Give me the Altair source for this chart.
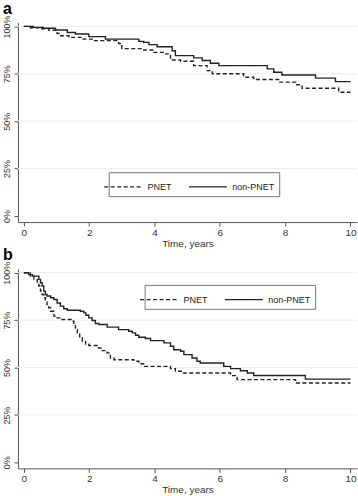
import altair as alt
import pandas as pd

# ---- Panel a ----
a_pnet_t = [0, 0.2, 0.5, 0.77, 1.02, 1.1, 1.38, 1.79, 2.14, 2.9, 3.0, 3.67, 3.98, 4.34, 4.49, 4.8, 5.2, 5.61, 5.77, 6.73, 7.04, 7.8, 8.32, 8.52, 9.64, 10]
a_pnet_s = [100, 99.3, 98.8, 98, 96.3, 95.1, 94.2, 93.3, 92.5, 91, 88.3, 87.6, 86.3, 85.5, 82.3, 81.6, 79.3, 76.7, 75, 73.2, 72, 70.6, 69.2, 67.4, 65.3, 65.3]
a_non_t = [0, 0.3, 0.6, 0.97, 1.33, 1.58, 1.99, 2.5, 3.52, 3.67, 3.83, 4.08, 4.54, 4.64, 5.2, 5.46, 5.71, 5.97, 7.45, 7.65, 7.9, 8.93, 9.54, 10]
a_non_s = [100, 99.5, 99, 98.1, 96.8, 96, 94.6, 93.3, 92.1, 91.6, 90.4, 89.3, 87.2, 84.6, 83.4, 82, 80.6, 79.3, 77.6, 75.8, 74.4, 72.7, 70.9, 70.9]

# ---- Panel b ----
b_pnet_t = [0, 0.2, 0.31, 0.41, 0.46, 0.51, 0.56, 0.61, 0.66, 0.71, 0.76, 0.82, 0.92, 1.02, 1.17, 1.48, 1.53, 1.58, 1.64, 1.71, 1.79, 1.89, 1.99, 2.24, 2.4, 2.55, 2.65, 2.76, 3.37, 3.52, 3.67, 4.49, 4.64, 4.85, 6.33, 6.53, 8.32, 10]
b_pnet_s = [100, 98.2, 96.5, 94.7, 93, 90.3, 88.5, 86.8, 85, 83.2, 81.5, 79.7, 77.1, 76.2, 75.3, 74.4, 72.7, 70, 68.3, 65.6, 63.8, 62.4, 61.6, 60.3, 58.9, 57.7, 55, 54.1, 53.3, 52, 50.6, 49.4, 48, 47.1, 45.7, 43.6, 41.8, 41.8]
b_non_t = [0, 0.15, 0.26, 0.46, 0.51, 0.56, 0.61, 0.66, 0.71, 0.82, 0.92, 1.02, 1.12, 1.22, 1.33, 1.73, 1.84, 1.9, 1.99, 2.09, 2.19, 2.3, 2.55, 2.9, 3.21, 3.32, 3.42, 3.52, 3.72, 3.88, 4.29, 4.49, 4.59, 4.8, 4.9, 5.15, 5.3, 5.4, 6.12, 6.33, 6.63, 6.84, 7.04, 8.62, 10]
b_non_s = [100, 99, 98.2, 96.5, 94.7, 93, 90.3, 88.5, 87.7, 86.8, 85.9, 84, 82.4, 81, 80.2, 79.7, 78.8, 77.6, 76.2, 74.8, 73.2, 72.7, 71.3, 70, 69.1, 68.3, 67, 66, 65.3, 64.2, 63, 61.2, 59.4, 58.6, 56.8, 55, 53.3, 52.4, 50.6, 49.4, 48.3, 47.1, 45.8, 43.9, 43.9]

groups = ["PNET", "non-PNET"]
x_ticks = [0, 2, 4, 6, 8, 10]
y_ticks = [0, 25, 50, 75, 100]
grid_vals = [25, 50, 75, 100]

FONT = "Liberation Sans"
INK = "#222222"


def make_df(pt, ps, nt, ns):
    d1 = pd.DataFrame({"time": pt, "surv": ps, "group": groups[0]})
    d2 = pd.DataFrame({"time": nt, "surv": ns, "group": groups[1]})
    return pd.concat([d1, d2], ignore_index=True)


X_SCALE = alt.Scale(domain=[-0.18, 10.2], nice=False, zero=False)
Y_SCALE = alt.Scale(domain=[-3.2, 102], nice=False, zero=False)
X_AXIS = alt.Axis(values=x_ticks, title="Time, years", grid=False, domain=True, ticks=True,
                  labelFont=FONT, labelFontSize=10, labelColor="#333",
                  titleFont=FONT, titleFontSize=10, titleFontWeight="normal",
                  titleColor="#333", titlePadding=1, tickSize=4, tickWidth=1,
                  tickColor="#555", domainColor="#555", domainWidth=1, labelPadding=1)
Y_AXIS = alt.Axis(values=y_ticks, title=None, grid=False, domain=True, ticks=True,
                  labelExpr="datum.value + '%'", labelAngle=270,
                  labelAlign="center", labelBaseline="bottom",
                  labelFont=FONT, labelFontSize=9, labelColor="#333",
                  tickSize=4, tickWidth=1, tickColor="#555", domainColor="#555",
                  domainWidth=1, labelPadding=2)


def panel(df, label, lx, ly):
    lines = alt.Chart(df).mark_line(
        interpolate="step-after", color=INK, strokeWidth=1.4
    ).encode(
        x=alt.X("time:Q", scale=X_SCALE, axis=X_AXIS),
        y=alt.Y("surv:Q", scale=Y_SCALE, axis=Y_AXIS),
        strokeDash=alt.StrokeDash(
            "group:N",
            scale=alt.Scale(domain=groups, range=[[4, 2.5], [1, 0]]),
            legend=alt.Legend(title=None, orient="none", direction="horizontal",
                              legendX=lx, legendY=ly, strokeColor="#777",
                              fillColor="white", padding=4,
                              symbolType="M-2,0L2,0", symbolSize=361,
                              symbolStrokeColor=INK, symbolStrokeWidth=1.4,
                              labelFont=FONT, labelFontSize=9, labelColor="#222",
                              labelOffset=14, columnPadding=13, cornerRadius=0),
        ),
        order=alt.Order("time:Q"),
    )
    grid = alt.Chart(pd.DataFrame({"g": grid_vals})).mark_rule(
        color="#ececec", strokeWidth=1
    ).encode(y=alt.Y("g:Q", scale=Y_SCALE, axis=Y_AXIS))
    return alt.layer(grid, lines).properties(
        width=340, height=200,
        title=alt.TitleParams(label, anchor="start", frame="bounds", fontSize=16,
                              fontWeight="bold", font=FONT, color="#000", offset=-2),
    )


pa = panel(make_df(a_pnet_t, a_pnet_s, a_non_t, a_non_s), "a", 91, 150)
pb = panel(make_df(b_pnet_t, b_pnet_s, b_non_t, b_non_s), "b", 127, 16)

chart = alt.vconcat(pa, pb, spacing=47, bounds="flush").resolve_scale(
    strokeDash="independent"
).configure_view(
    stroke=None
).properties(padding={"left": 2, "top": 0, "right": 0, "bottom": 0}, background="white")

chart.save("out.html", embed_options={"renderer": "svg", "actions": False})
